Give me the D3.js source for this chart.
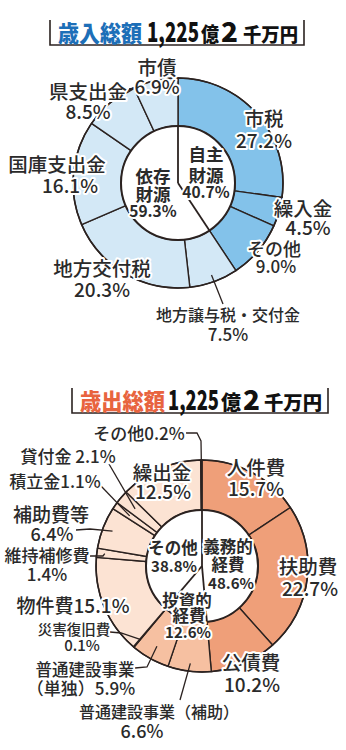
<!DOCTYPE html>
<html><head><meta charset="utf-8">
<script src="https://cdn.jsdelivr.net/npm/d3@7"></script>
<style>
html,body{margin:0;padding:0;background:#fff;}
svg{display:block;}
text{font-family:"Noto Sans CJK JP","Noto Sans",sans-serif;}
</style></head>
<body>
<svg id="c" width="346" height="750"></svg>
<script>
// 歳入 (revenue)
const revCategories = ["市税","繰入金","その他","地方譲与税・交付金","地方交付税","国庫支出金","県支出金","市債"];
const revValues = [27.2, 4.5, 9.0, 7.5, 20.3, 16.1, 8.5, 6.9];
const revGroupOf = ["自主","自主","自主","依存","依存","依存","依存","依存"];
const revGroups = ["自主財源","依存財源"];
const revGroupValues = [40.7, 59.3];

// 歳出 (expenditure)
const expCategories = ["人件費","扶助費","公債費","普通建設事業（補助）","普通建設事業（単独）","災害復旧費","物件費","維持補修費","補助費等","積立金","貸付金","繰出金","その他"];
const expValues = [15.7, 22.7, 10.2, 6.6, 5.9, 0.1, 15.1, 1.4, 6.4, 1.1, 2.1, 12.5, 0.2];
const expGroupOf = ["義務","義務","義務","投資","投資","投資","他","他","他","他","他","他","他"];
const expGroups = ["義務的経費","投資的経費","その他"];
const expGroupValues = [48.6, 12.6, 38.8];

const totalLabel = ["1,225","億","2","千万円"];

const svg = d3.select("#c");
const INK = "#2b2220";

// spans: [start, end] for heading, then for each piece of totalLabel
function title(x0, x1, yTop, yBot, head, headColor, spans) {
  const g = svg.append("g");
  g.append("path")
    .attr("d", `M${x0},${yTop}V${yBot}H${x1}V${yTop}`)
    .attr("fill","none").attr("stroke",INK).attr("stroke-width",1.6);
  const base = yBot - 3.5;
  g.append("text").attr("x", spans[0][0]).attr("y", base).attr("font-weight", 900)
    .text(head).attr("fill", headColor).attr("font-size", 22.5)
    .attr("textLength", spans[0][1]-spans[0][0]).attr("lengthAdjust","spacingAndGlyphs");
  const sizes = [27, 20, 27, 19];
  totalLabel.forEach((s,i) => {
    const sp = spans[i+1];
    g.append("text").attr("x", sp[0]).attr("y", base).attr("font-weight", 900)
      .text(s).attr("fill", "#111").attr("font-size", sizes[i])
      .attr("font-family", i%2===0 ? "Roboto, 'Liberation Sans', sans-serif" : null)
      .attr("textLength", sp[1]-sp[0]).attr("lengthAdjust","spacingAndGlyphs");
  });
}

function donut(cx, cy, R, r, values, colors, groupValues) {
  const g = svg.append("g").attr("transform", `translate(${cx},${cy})`);
  const pie = d3.pie().sort(null).value(d => d);
  const arcs = pie(values);
  const arc = d3.arc().innerRadius(r).outerRadius(R);
  g.selectAll("path.slice").data(arcs).join("path").attr("class","slice")
    .attr("d", arc).attr("fill", (d,i) => colors[i])
    .attr("stroke", INK).attr("stroke-width", 1.4).attr("stroke-linejoin","round");
  g.append("circle").attr("r", R).attr("fill","none").attr("stroke",INK).attr("stroke-width",1.6);
  g.append("circle").attr("r", r).attr("fill","#fff").attr("stroke",INK).attr("stroke-width",2);
  // group dividers inside the white hub
  const gArcs = pie(groupValues);
  gArcs.forEach(d => {
    const a = d.startAngle;
    g.append("line").attr("x1",0).attr("y1",0)
      .attr("x2", r*Math.sin(a)).attr("y2", -r*Math.cos(a))
      .attr("stroke",INK).attr("stroke-width",1.8);
  });
  return {g, arcs};
}

function halo(sel, w) {
  return sel.attr("stroke","#fff").attr("stroke-width", w||4).attr("stroke-linejoin","round").attr("paint-order","stroke");
}

function label(g, lines, fill) {
  // lines: [text, dx, dy, size, weight]
  lines.forEach(([s, dx, dy, size, w]) => {
    halo(g.append("text").attr("x",dx).attr("y",dy).attr("text-anchor","middle")
      .attr("dominant-baseline","central").attr("font-size",size).attr("font-weight",w||500)
      .attr("fill", fill || "#2a2a2a").text(s), 4);
  });
}

function leader(g, arcs, idx, pts, rr) {
  const d = arcs[idx];
  const m = (d.startAngle + d.endAngle)/2;
  const end = [rr*Math.sin(m), -rr*Math.cos(m)];
  const all = pts.concat([end]);
  g.append("path").attr("d", d3.line().curve(d3.curveLinear)(all))
    .attr("fill","none").attr("stroke",INK).attr("stroke-width",1.3);
}

const pct = v => v.toFixed(1) + "%";

// ---------- 歳入 ----------
title(50, 304, 20, 45, "歳入総額", "#1d6fb8", [[58,142],[147,199],[201,219],[221,238],[243,298]]);
const revColors = revGroupOf.map(gk => gk === "自主" ? "#83c2ea" : "#d3e8f6");
const revChart = donut(178, 183, 105, 57, revValues, revColors, revGroupValues);
leader(revChart.g, revChart.arcs, 6, [[-49,-94],[-43,-95]], 105);
leader(revChart.g, revChart.arcs, 3, [[45,121]], 98);
label(revChart.g, [[revCategories[7],-21,-117,19.5],[pct(revValues[7]),-21,-98,19]]);
label(revChart.g, [[revCategories[6],-90,-93,19.5],[pct(revValues[6]),-90,-73,19]]);
label(revChart.g, [[revCategories[5],-121,-20,19.5],[pct(revValues[5]),-108,1,19]]);
label(revChart.g, [[revCategories[0],86,-66,19.5],[pct(revValues[0]),86,-44,19]]);
label(revChart.g, [[revCategories[1],125,24,19.5],[pct(revValues[1]),130,43,19]]);
label(revChart.g, [[revCategories[2],96,65,18],[pct(revValues[2]),98,82,17]]);
label(revChart.g, [[revCategories[4],-76,84,19.5],[pct(revValues[4]),-76,105,19]]);
label(revChart.g, [[revCategories[3],50,131,16],[pct(revValues[3]),50,150,17]]);
// hub labels
label(revChart.g, [["自主",28,-30,17.5,700],["財源",28,-9,17.5,700],[pct(revGroupValues[0]),28,8,15.5,700]]);
label(revChart.g, [["依存",-25,-8,17.5,700],["財源",-25,10,17.5,700],[pct(revGroupValues[1]),-25,27,15.5,700]]);

// ---------- 歳出 ----------
title(72, 328, 388, 413, "歳出総額", "#e8643f", [[80,165],[168,219],[221,241],[243,260],[264,322]]);
const expColorMap = {"義務":"#ef9f79","投資":"#f6c0a1","他":"#fce3d3"};
const expColors = expGroupOf.map(k => expColorMap[k]);
const expChart = donut(202, 566, 106, 56, expValues, expColors, expGroupValues);
// leader lines
leader(expChart.g, expChart.arcs, 12, [[-16,-133],[-5,-133],[-1,-125]], 104);
leader(expChart.g, expChart.arcs, 10, [[-93,-102]], 88);
leader(expChart.g, expChart.arcs, 9, [[-101,-80]], 88);
leader(expChart.g, expChart.arcs, 8, [[-126,-36],[-112,-37]], 96);
leader(expChart.g, expChart.arcs, 7, [[-112,-10],[-99,-10]], 98);
leader(expChart.g, expChart.arcs, 5, [[-92,66],[-81,67]], 96);
leader(expChart.g, expChart.arcs, 4, [[-67,102],[-55,101]], 92);
leader(expChart.g, expChart.arcs, 3, [[-22,134]], 98);
// outer labels
label(expChart.g, [[expCategories[0],54,-100,19.5],[pct(expValues[0]),54,-79,19]]);
label(expChart.g, [[expCategories[1],106,-1,19.5],[pct(expValues[1]),108,21,19]]);
label(expChart.g, [[expCategories[2],49,95,19.5],[pct(expValues[2]),50,117,19]]);
label(expChart.g, [[expCategories[3],-43,145,16],[pct(expValues[3]),-60,164,18]]);
label(expChart.g, [["普通建設事業",-117,103,16.5],["（単独）" + pct(expValues[4]),-121,121,17]]);
label(expChart.g, [[expCategories[5],-128,62,14.5],[pct(expValues[5]),-120,78,15]]);
label(expChart.g, [[expCategories[6] + pct(expValues[6]),-129,38,19]]);
label(expChart.g, [[expCategories[7],-155,-12,17],[pct(expValues[7]),-155,7,17]]);
label(expChart.g, [[expCategories[8],-151,-53,19],[pct(expValues[8]),-150,-33,18]]);
label(expChart.g, [[expCategories[9] + pct(expValues[9]),-147,-86,17]]);
label(expChart.g, [[expCategories[10] + " " + pct(expValues[10]),-134,-111,17]]);
label(expChart.g, [[expCategories[11],-40,-95,19.5],[pct(expValues[11]),-39,-76,19]]);
label(expChart.g, [[expCategories[12] + pct(expValues[12]),-63,-134,17]]);
// hub labels
label(expChart.g, [["義務的",26,-20,16.5,700],["経費",26,-2,16.5,700],[pct(expGroupValues[0]),29,16,15,700]]);
label(expChart.g, [["その他",-29,-19,16.5,700],[pct(expGroupValues[2]),-28,-1,15,700]]);
label(expChart.g, [["投資的",-15,34,16.5,700],["経費",-13,49,16.5,700],[pct(expGroupValues[1]),-14,65,15,700]]);
</script>
</body></html>
